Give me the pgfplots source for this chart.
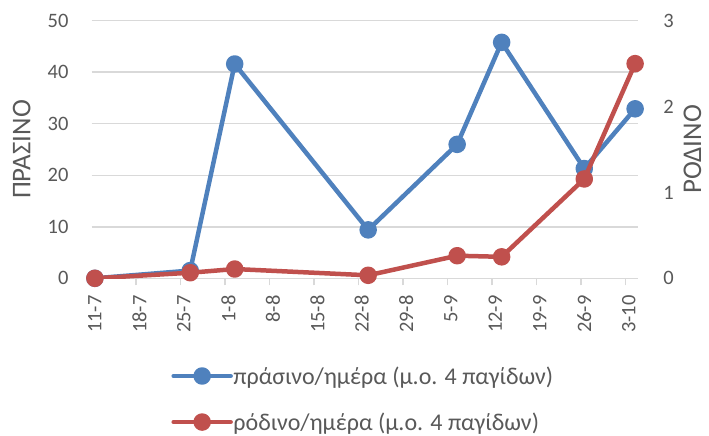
\documentclass[border=0pt]{standalone}
\usepackage{fontspec}
\setmainfont{Carlito}
\usepackage{pgfplots}
\pgfplotsset{compat=1.18}
\definecolor{sblue}{HTML}{4F81BD}
\definecolor{sred}{HTML}{C0504D}
\definecolor{gridc}{HTML}{D9D9D9}
\definecolor{txt}{HTML}{595959}
\begin{document}
\begin{tikzpicture}
\useasboundingbox (-91.7bp,-157.7bp) rectangle (617.3bp,278.3bp);
\pgfplotsset{
  common/.style={
    scale only axis, width=546.6bp, height=257.6bp,
    xmin=-0.5, xmax=85.5, ymin=0,
    /pgf/number format/assume math mode=true,
    tick label style={font=\fontsize{20.5bp}{24bp}\selectfont, text=txt},
    label style={font=\fontsize{27bp}{30bp}\selectfont, text=txt, inner sep=0pt},
    major tick length=0pt,
  },
  serstyle/.style={line width=4.5bp, mark=*, mark size=6.5bp, line join=round, line cap=round, mark options={solid}},
}
\begin{axis}[common,
  ymax=50, ytick={0,10,...,50},
  axis x line*=bottom, axis y line*=left,
  y axis line style={draw=none},
  x axis line style={draw=gridc, line width=1.5bp, -},
  ymajorgrids, grid style={draw=gridc, line width=1.5bp},
  xtick={0,7,...,84},
  xticklabels={11-7,18-7,25-7,1-8,8-8,15-8,22-8,29-8,5-9,12-9,19-9,26-9,3-10},
  minor xtick={6.5,13.5,...,83.5},
  minor tick length=7bp,
  minor tick style={draw=gridc, line width=1.5bp},
  xtick align=outside,
  xticklabel style={rotate=90, anchor=east, inner sep=0pt},
  xticklabel shift=17bp,
  yticklabel style={anchor=east, inner sep=0pt},
  yticklabel shift=23bp,
  ylabel={ΠΡΑΣΙΝΟ},
  ylabel style={at={(axis description cs:-0.128,0.5)}, anchor=center},
  legend style={at={(0.140,-0.326)}, anchor=north west, draw=none, fill=none,
    font=\fontsize{24bp}{28bp}\selectfont, text=txt, row sep=23bp,
    nodes={inner xsep=0.5bp, inner ysep=2bp}},
  legend cell align=left,
  legend image code/.code={\draw[mark repeat=2,mark phase=2] plot coordinates {(0bp,0bp) (28.5bp,0bp) (57bp,0bp)};},
]
\addplot[sblue, serstyle] coordinates {(0,0)(15,1.5)(22,41.6)(43,9.4)(57,26.0)(64,45.8)(77,21.3)(85,32.9)};
\addlegendentry{πράσινο/ημέρα (μ.ο. 4 παγίδων)}
\addlegendimage{sred, serstyle}
\addlegendentry{ρόδινο/ημέρα (μ.ο. 4 παγίδων)}
\end{axis}
\begin{axis}[common,
  ymax=3, ytick={0,1,2,3},
  axis x line=none, axis y line*=right,
  y axis line style={draw=none},
  yticklabel style={anchor=west, inner sep=0pt},
  yticklabel shift=25bp,
  ylabel={ΡΟΔΙΝΟ},
  ylabel style={at={(axis description cs:1.099,0.5)}, anchor=center},
]
\addplot[sred, serstyle] coordinates {(0,0)(15,0.065)(22,0.108)(43,0.035)(57,0.263)(64,0.25)(77,1.157)(85,2.50)};
\end{axis}
\end{tikzpicture}
\end{document}
